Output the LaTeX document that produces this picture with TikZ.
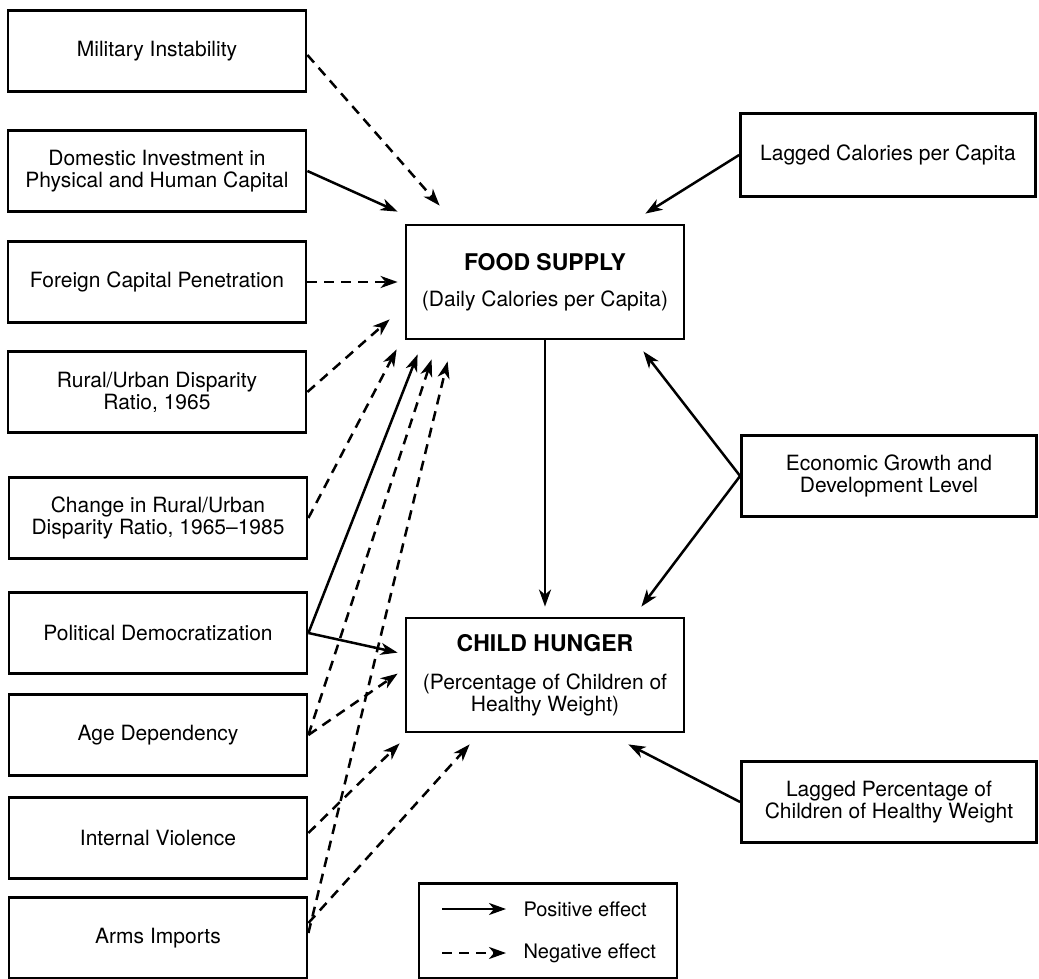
\documentclass[tikz,border=0pt]{standalone}
\usepackage{fontspec}
\setmainfont{TeX Gyre Heros}
\usepackage{tikz}
\usetikzlibrary{arrows.meta}

\newcommand{\ttl}[1]{{\fontsize{23}{22}\selectfont\bfseries #1}}

\begin{document}
\begin{tikzpicture}[x=1pt, y=-1pt,
    box/.style = {draw, line width=2.8pt, align=center, inner sep=0pt, minimum width=298pt, minimum height=81pt, font=\fontsize{21}{22}\selectfont},
    key/.style = {box, minimum width=278pt, minimum height=114pt},
    posedge/.style = {line width=2.5pt, -{Stealth[length=17pt, width=12pt, inset=5pt]}},
    negedge/.style = {posedge, dash pattern=on 10pt off 7pt}]
    \useasboundingbox (0,0) rectangle (1039,979);

    % left column
    \node[box] (mil) at (157,51) {Military Instability};
    \node[box] (dom) at (157,171) {Domestic Investment in\\Physical and Human Capital};
    \node[box] (fcp) at (157,282) {Foreign Capital Penetration};
    \node[box] (rur) at (157,392) {Rural/Urban Disparity\\Ratio, 1965};
    \node[box] (chg) at (158,518) {Change in Rural/Urban\\Disparity Ratio, 1965--1985};
    \node[box] (pol) at (158,633) {Political Democratization};
    \node[box] (age) at (158,735) {Age Dependency};
    \node[box] (int) at (158,838) {Internal Violence};
    \node[box] (arm) at (158,938) {Arms Imports};

    % centre and right column
    \node[key] (food) at (545,282) {\ttl{FOOD SUPPLY}\\[14pt](Daily Calories per Capita)};
    \node[key] (child) at (545,675) {\ttl{CHILD HUNGER}\\[16pt](Percentage of Children of\\Healthy Weight)};
    \node[box, minimum width=295pt, minimum height=83pt] (lcal) at (888,155) {Lagged Calories per Capita};
    \node[box, minimum width=295pt] (econ) at (889,476) {Economic Growth and\\Development Level};
    \node[box, minimum width=295pt] (lpct) at (889,802) {Lagged Percentage of\\Children of Healthy Weight};

    % legend
    \node[draw, line width=2.8pt, minimum width=258pt, minimum height=95pt, inner sep=0pt] (leg) at (548,931) {};
    \node[anchor=west, font=\fontsize{20}{22}\selectfont] (lpos) at (520,909) {Positive effect};
    \node[anchor=west, font=\fontsize{20}{22}\selectfont] (lneg) at (520,953) {Negative effect};
    \coordinate (s1) at (442,909);
    \coordinate (s2) at (442,953);
    \draw[posedge] (s1) -- ([xshift=-14pt]lpos.west);
    \draw[negedge] (s2) -- ([xshift=-14pt]lneg.west);

    % effects on food supply
    \draw[negedge] ([yshift=-4pt]mil.east) -- ([xshift=35pt,yshift=18pt]food.north west);
    \draw[posedge] (dom.east) -- ([xshift=-7pt,yshift=12pt]food.north west);
    \draw[negedge] (fcp.east) -- ([xshift=-7pt]food.west);
    \draw[negedge] (rur.east) -- ([xshift=-15pt,yshift=21pt]food.south west);
    \draw[negedge] (chg.east) -- ([xshift=-8pt,yshift=-9pt]food.south west);
    \draw[posedge] (pol.east) -- ([xshift=13pt,yshift=-14pt]food.south west);
    \draw[negedge] (age.east) -- ([xshift=27pt,yshift=-19pt]food.south west);
    \draw[negedge] ([yshift=5pt]arm.east) -- ([xshift=43pt,yshift=-21pt]food.south west);
    \draw[posedge] (lcal.west) -- ([xshift=-40pt,yshift=10pt]food.north east);
    \draw[posedge] (econ.west) -- ([xshift=-42pt,yshift=-11pt]food.south east);

    % effects on child hunger
    \draw[posedge, shorten >=10pt] (food.south) -- (child.north);
    \draw[posedge] (pol.east) -- ([xshift=-7pt,yshift=-36pt]child.north west);
    \draw[negedge] (age.east) -- ([xshift=-7pt,yshift=-57pt]child.north west);
    \draw[negedge] ([yshift=5pt]int.east) -- ([xshift=-5pt,yshift=-10pt]child.south west);
    \draw[negedge] ([yshift=15pt]arm.east) -- ([xshift=65pt,yshift=-11pt]child.south west);
    \draw[posedge] (econ.west) -- ([xshift=-44pt,yshift=10pt]child.north east);
    \draw[posedge] (lpct.west) -- ([xshift=-57pt,yshift=-11pt]child.south east);
\end{tikzpicture}
\end{document}
